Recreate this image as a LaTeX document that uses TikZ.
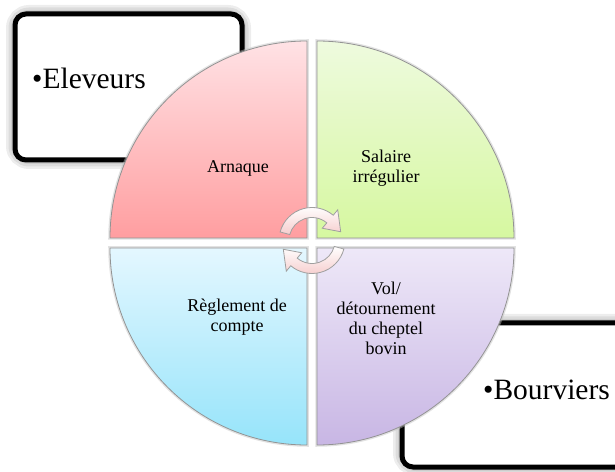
\documentclass[tikz,border=0pt]{standalone}
\usepackage{fontspec}
\setmainfont{Liberation Serif}
\usepackage{tikz}
\usepackage{xcolor}
\usetikzlibrary{arrows.meta,shapes,calc}

\definecolor{rosehaut}{RGB}{255,226,229}
\definecolor{rosebas}{RGB}{255,158,160}
\definecolor{verthaut}{RGB}{238,250,222}
\definecolor{vertbas}{RGB}{214,248,160}
\definecolor{bleuhaut}{RGB}{228,247,255}
\definecolor{bleubas}{RGB}{150,228,250}
\definecolor{mauvehaut}{RGB}{238,232,248}
\definecolor{mauvebas}{RGB}{200,182,228}
\definecolor{flechebas}{RGB}{246,205,205}

\tikzset{
  quart/.style={draw=gray!85,line width=0.8pt,preaction={draw=gray!50,line width=3.5pt,opacity=0.45}},
  cadre/.style={draw=black,line width=5pt,rounded corners=11pt,fill=white},
  halo/.style={black,opacity=0.07,rounded corners=14pt},
  petit/.style={font=\fontsize{18}{20}\selectfont,align=center},
  grand/.style={font=\fontsize{29.5}{32}\selectfont,anchor=base west,inner sep=0pt},
  fleche/.style={draw=gray!75,line width=0.8pt,top color=white,bottom color=flechebas}
}

\begin{document}
\begin{tikzpicture}[x=1pt,y=1pt]
\clip(0,0) rectangle (615,471);
% cadres derriere le cercle
\foreach \w in {18,13,8}{
\draw[halo,line width=\w pt](15,311) rectangle (242,457);
\draw[halo,line width=\w pt](402,4) rectangle (650,148);
}
\draw[cadre](15,311) rectangle (242,457);
\draw[cadre](402,4) rectangle (650,148);
% quatre quarts
\draw[quart,top color=rosehaut,bottom color=rosebas](307,233)--(110,233) arc[start angle=180,end angle=90,radius=197]--cycle;
\draw[quart,top color=verthaut,bottom color=vertbas](317,233)--(317,430) arc[start angle=90,end angle=0,radius=197]--cycle;
\draw[quart,top color=bleuhaut,bottom color=bleubas](307,223)--(307,26) arc[start angle=270,end angle=180,radius=197]--cycle;
\draw[quart,top color=mauvehaut,bottom color=mauvebas](317,223)--(514,223) arc[start angle=0,end angle=-90,radius=197]--cycle;
% fleches du cycle
\coordinate (C) at (312,230.5);
\draw[fleche]($(C)+(165:33)$) arc[start angle=165,end angle=50,radius=33]
  --($(C)+(50:40)$)--($(C)+(17:30)$)--($(C)+(50:16)$)--($(C)+(50:23)$)
  arc[start angle=50,end angle=165,radius=23]--cycle;
\draw[fleche]($(C)+(345:33)$) arc[start angle=345,end angle=230,radius=33]
  --($(C)+(230:40)$)--($(C)+(197:30)$)--($(C)+(230:16)$)--($(C)+(230:23)$)
  arc[start angle=230,end angle=345,radius=23]--cycle;
% textes
\node[petit](arnaque) at (238,303){Arnaque};
\node[petit](salaire) at (386,303){Salaire\\irrégulier};
\node[petit](reglement) at (237,154){Règlement de\\compte};
\node[petit](vol) at (386,153){Vol/\\détournement\\du cheptel\\bovin};
\node[grand](eleveurs) at (32,382){•Eleveurs};
\node[grand](bourviers) at (483,71){•Bourviers};
\end{tikzpicture}
\end{document}
